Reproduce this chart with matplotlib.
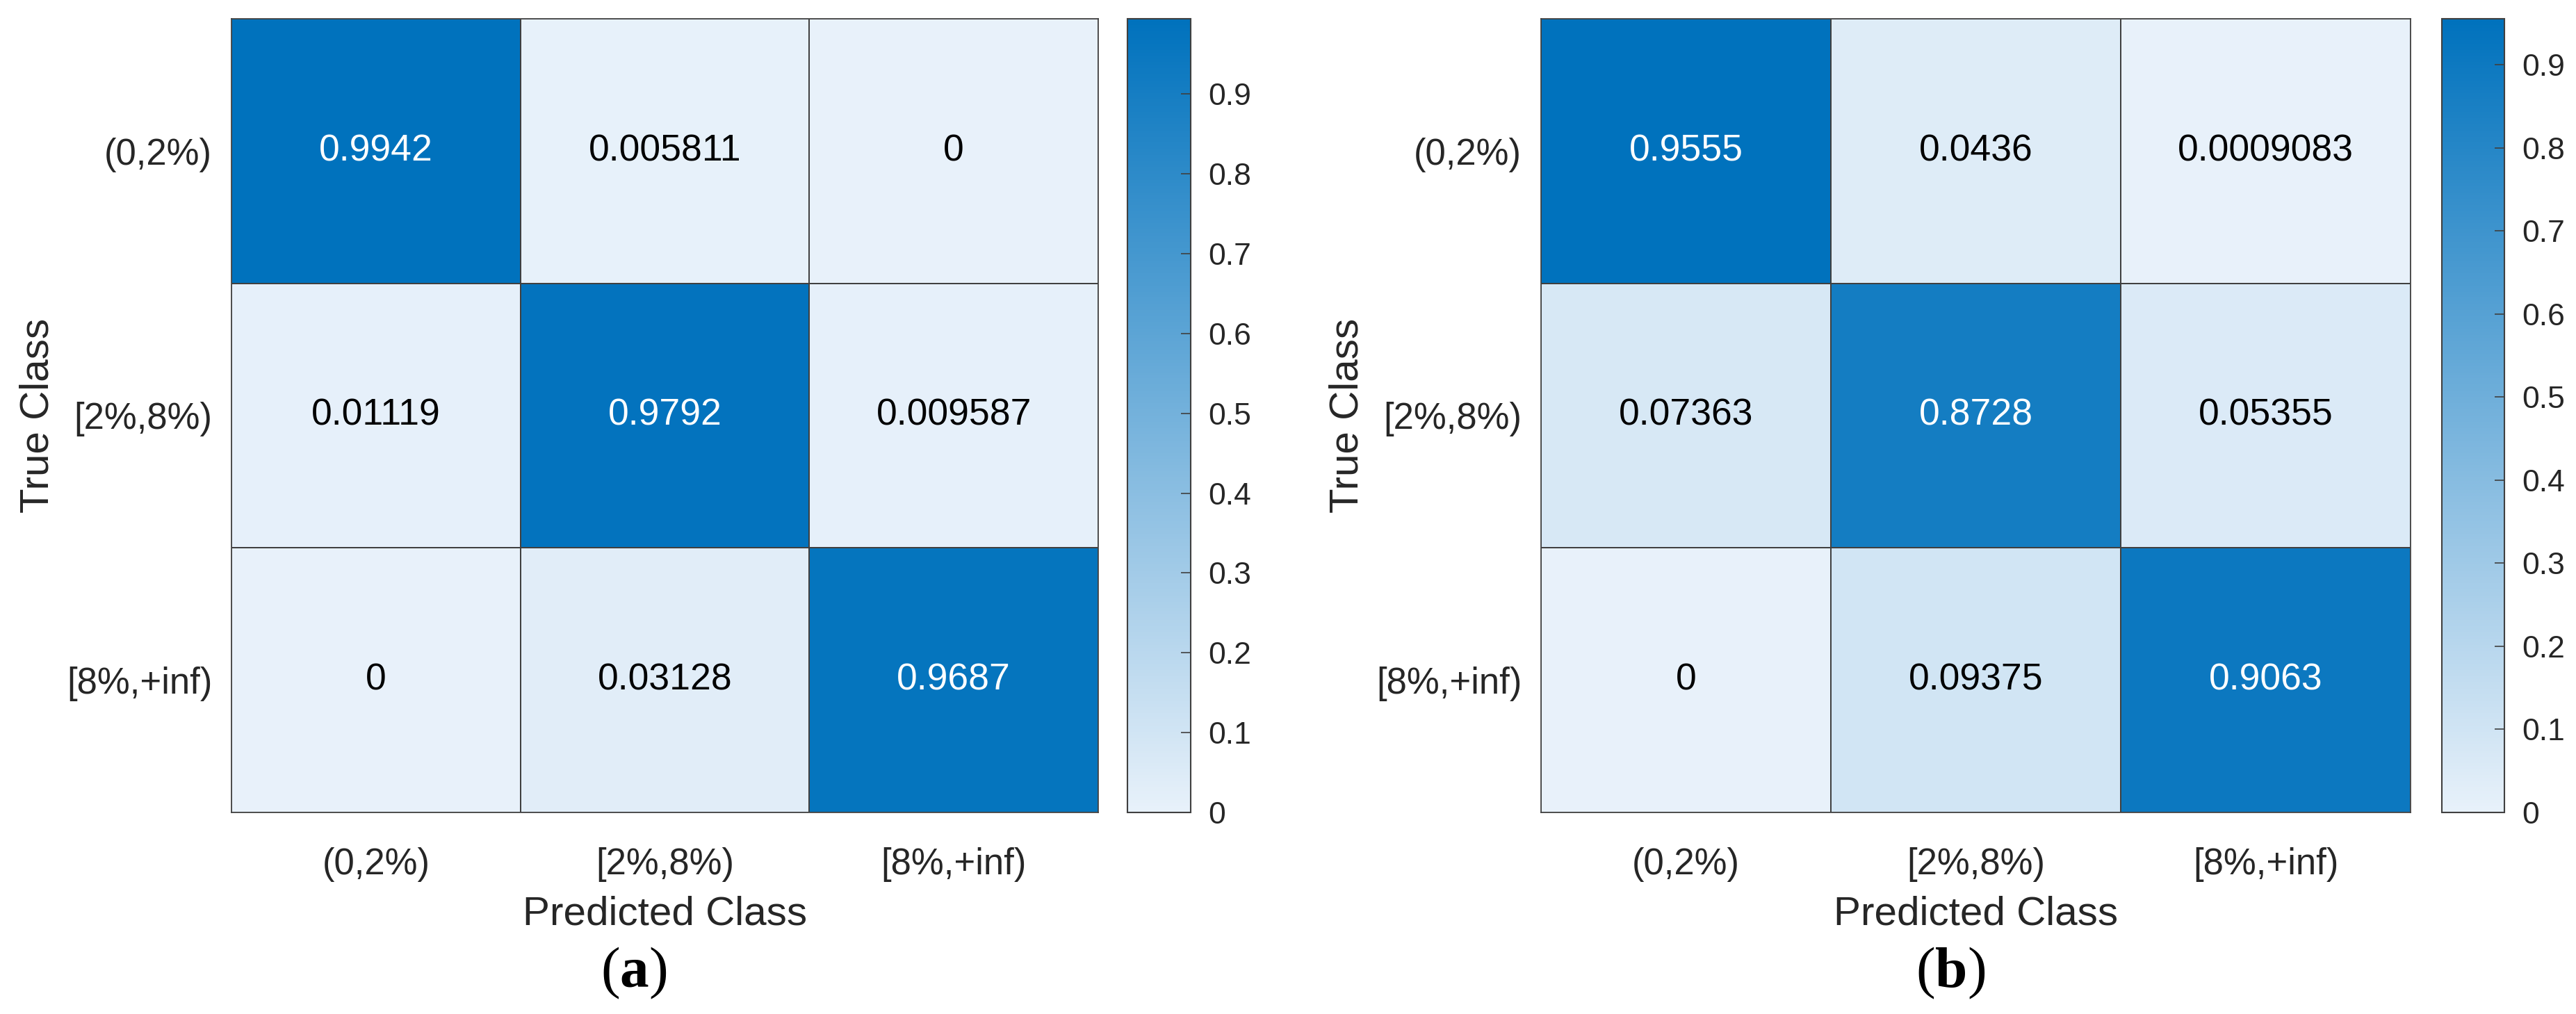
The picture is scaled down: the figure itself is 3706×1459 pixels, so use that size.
import numpy as np
import matplotlib
matplotlib.use("Agg")
import matplotlib.pyplot as plt
from matplotlib.colors import LinearSegmentedColormap

plt.rcParams['font.family'] = ['Liberation Sans', 'DejaVu Sans']
plt.rcParams['mathtext.fontset'] = 'custom'
plt.rcParams['mathtext.rm'] = 'Liberation Serif'
plt.rcParams['mathtext.bf'] = 'Liberation Serif:bold'

# class labels
classes = ['(0,2%)', '[2%,8%)', '[8%,+inf)']

# normalised confusion matrices (rows = true class)
cm_a = np.array([
    [0.9942, 0.005811, 0],
    [0.01119, 0.9792, 0.009587],
    [0, 0.03128, 0.9687],
])
cm_b = np.array([
    [0.9555, 0.0436, 0.0009083],
    [0.07363, 0.8728, 0.05355],
    [0, 0.09375, 0.9063],
])
cb_ticks = [0, 0.1, 0.2, 0.3, 0.4, 0.5, 0.6, 0.7, 0.8, 0.9]
panel_tags = ['a', 'b']

W, H = 3706, 1459
fig = plt.figure(figsize=(W / 100, H / 100), dpi=100)

cmap = LinearSegmentedColormap.from_list('mblue', ['#E8F1FA', '#0072BD'])
edge = '#404040'
txt_gray = '#262626'

# pixel layout of each panel: axes left, axes width, colorbar left, colorbar width, tag x
layout = [
    dict(ax_l=333, ax_w=1247, cb_l=1622, cb_w=91, tag_x=912),
    dict(ax_l=2217, ax_w=1251, cb_l=3513, cb_w=90, tag_x=2806),
]
ax_top, ax_bot = 27, 1169

for cm, lay, tag in zip([cm_a, cm_b], layout, panel_tags):
    b = (H - ax_bot) / H
    h = (ax_bot - ax_top) / H
    ax = fig.add_axes([lay['ax_l'] / W, b, lay['ax_w'] / W, h])
    cax = fig.add_axes([lay['cb_l'] / W, b, lay['cb_w'] / W, h])

    vmax = cm.max()
    n = len(classes)
    mesh = ax.pcolormesh(np.arange(n + 1), np.arange(n + 1), cm, cmap=cmap,
                         vmin=0, vmax=vmax, edgecolors=edge, linewidth=1.2)
    ax.set_xlim(0, n)
    ax.set_ylim(n, 0)
    for i in range(n):
        for j in range(n):
            v = cm[i, j]
            ax.text(j + 0.5, i + 0.5, '%.4g' % v, ha='center', va='center',
                    fontsize=38.5, color='white' if v > 0.5 else 'black')

    ax.set_xticks(np.arange(n) + 0.5)
    ax.set_yticks(np.arange(n) + 0.5)
    ax.set_xticklabels(classes, fontsize=38, color=txt_gray)
    ax.set_yticklabels(classes, fontsize=38, color=txt_gray)
    ax.tick_params(length=0, pad=20)
    ax.tick_params(axis='x', pad=36)
    for s in ax.spines.values():
        s.set_color(edge)
        s.set_linewidth(1.2)

    ax.set_xlabel('Predicted Class', fontsize=42, color=txt_gray, labelpad=14)
    ax.set_ylabel('True Class', fontsize=42, color=txt_gray, labelpad=10)

    cb = fig.colorbar(mesh, cax=cax, ticks=cb_ticks)
    cb.outline.set_edgecolor(edge)
    cb.outline.set_linewidth(1.5)
    cax.tick_params(labelsize=32, direction='in', length=10, width=1.2,
                    color=edge, labelcolor=txt_gray, pad=18)
    cax.set_yticklabels(['%g' % t for t in cb_ticks])

    fig.text(lay['tag_x'] / W, (H - 1400) / H, r'($\mathbf{%s}$)' % tag,
             ha='center', va='center', fontsize=60, family='Liberation Serif')

fig.savefig('out.png', dpi=100, facecolor='white')
